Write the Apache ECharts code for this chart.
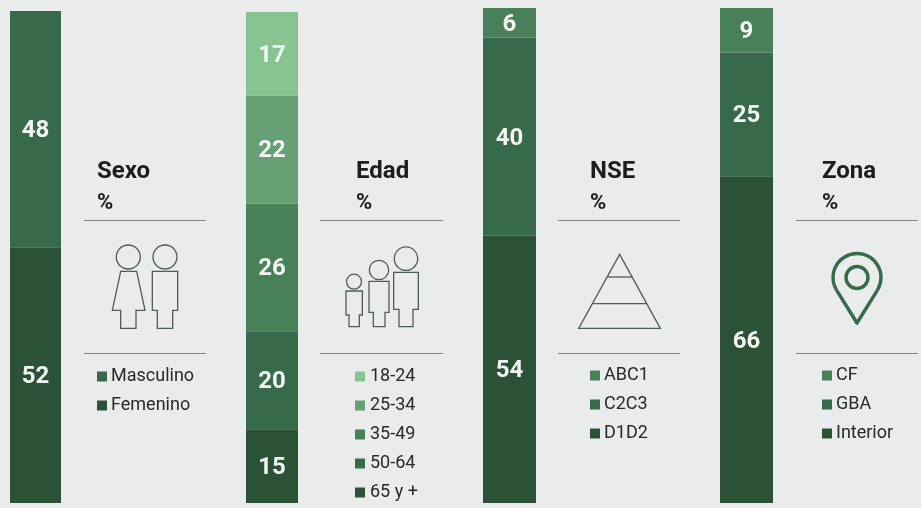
<!DOCTYPE html>
<html><head><meta charset="utf-8">
<style>html,body{margin:0;padding:0;background:#e9ecea}#c{width:921px;height:508px}</style>
<script src="https://cdn.jsdelivr.net/npm/echarts@6/dist/echarts.min.js"></script>
</head><body><div id="c"></div>
<script>
const panelTitles = ['Sexo','Edad','NSE','Zona'];
const unitLabel = '%';
const sexoCategories = ['Masculino','Femenino'];
const sexoValues = [48,52];
const sexoColors = ['#37694b','#2b5237'];
const edadCategories = ['18-24','25-34','35-49','50-64','65 y +'];
const edadValues = [17,22,26,20,15];
const edadColors = ['#86c592','#659f73','#488057','#37694b','#2b5237'];
const nseCategories = ['ABC1','C2C3','D1D2'];
const nseValues = [6,40,54];
const nseColors = ['#4a8059','#37694b','#2b5237'];
const zonaCategories = ['CF','GBA','Interior'];
const zonaValues = [9,25,66];
const zonaColors = ['#4a8059','#37694b','#2b5237'];

const layouts = [
 {bar:[10,11,51,492], tx:97, rule:[84,206], lx:97, ly:366, tp:-1},
 {bar:[246,12,52,491], tx:356, rule:[320,443], lx:355, ly:366, tp:0},
 {bar:[483,8,53,495], tx:590, rule:[558,680], lx:590, ly:365, tp:-1},
 {bar:[720,8,53,495], tx:822, rule:[796,918], lx:822, ly:365, tp:-1}
];
const cats=[sexoCategories,edadCategories,nseCategories,zonaCategories];
const vals=[sexoValues,edadValues,nseValues,zonaValues];
const cols=[sexoColors,edadColors,nseColors,zonaColors];
const INK='#1a1e1c', RULE='#7f8682', ICON='#525c56', PIN='#37694b';

const grid=[],xAxis=[],yAxis=[],series=[],legend=[],title=[],graphic=[];
layouts.forEach((L,i)=>{
  grid.push({left:L.bar[0],top:L.bar[1],width:L.bar[2],height:L.bar[3]});
  xAxis.push({type:'category',gridIndex:i,data:[panelTitles[i]],show:false});
  yAxis.push({type:'value',gridIndex:i,min:0,max:100,show:false});
  for(let k=cats[i].length-1;k>=0;k--){
    series.push({type:'bar',name:cats[i][k],stack:panelTitles[i],xAxisIndex:i,yAxisIndex:i,
      barWidth:'100%',data:[vals[i][k]],itemStyle:{color:cols[i][k]},
      label:{show:true,position:'inside',offset:[0,2],formatter:'{c}',color:'#f2f5f2',fontFamily:'Roboto',fontWeight:'bold',fontSize:24}});
  }
  legend.push({orient:'vertical',left:L.lx,top:L.ly,padding:0,itemGap:8,itemWidth:10,itemHeight:10,
    icon:'rect',selectedMode:false,data:cats[i],
    textStyle:{fontFamily:'Roboto',fontSize:18,color:'#262a28',padding:[0,0,0,L.tp],lineHeight:21}});
  title.push({text:panelTitles[i],left:L.tx,top:158,padding:0,itemGap:4,
    textStyle:{fontFamily:'Roboto',fontWeight:'bold',fontSize:24,color:INK,lineHeight:28},
    subtext:unitLabel,
    subtextStyle:{fontFamily:'Roboto',fontWeight:'bold',fontSize:22,color:INK,lineHeight:26}});
  [220.5,353.5].forEach(y=>graphic.push({type:'line',shape:{x1:L.rule[0],y1:y,x2:L.rule[1],y2:y},style:{stroke:RULE,lineWidth:1}}));
});
const ring=(cx,cy,r)=>({type:'circle',shape:{cx,cy,r},style:{fill:'none',stroke:ICON,lineWidth:1.3}});
const poly=(pts,ox,oy)=>({type:'polygon',shape:{points:pts.map(p=>[ox+p[0]/3,oy+p[1]/3])},style:{fill:'none',stroke:ICON,lineWidth:1.3}});
const seg=(a,b,ox,oy)=>({type:'line',shape:{x1:ox+a[0]/3,y1:oy+a[1]/3,x2:ox+b[0]/3,y2:oy+b[1]/3},style:{stroke:ICON,lineWidth:1.3}});
// Sexo icons
graphic.push(ring(128.3,257,12),ring(165,257,12));
graphic.push(poly([[362,424],[410,424],[435,541],[408,541],[408,595],[362,595],[362,541],[337,541]],0,130));
graphic.push(poly([[457,424],[533,424],[533,541],[518,541],[518,595],[472,595],[472,541],[457,541]],0,130));
// Edad icons
graphic.push(ring(240+342/3,140+425/3,7.5),ring(240+417/3,140+390/3,9.7),ring(240+498/3,140+356/3,11.7));
graphic.push(poly([[318,453],[367,453],[367,525],[358,525],[358,560],[327,560],[327,525],[318,525]],240,140));
graphic.push(poly([[387,424],[447,424],[447,517],[435,517],[435,560],[400,560],[400,517],[387,517]],240,140));
graphic.push(poly([[461,397],[535,397],[535,508],[519,508],[519,560],[477,560],[477,508],[461,508]],240,140));
// NSE icon
graphic.push(poly([[419,343],[541,565],[296,565]],480,140));
graphic.push(seg([383,411],[457,411],480,140),seg([338,491],[498,491],480,140));
// Zona icon
graphic.push({type:'arc',shape:{cx:857,cy:277.5,r:24,startAngle:149*Math.PI/180,endAngle:31*Math.PI/180,clockwise:true},style:{fill:'none',stroke:PIN,lineWidth:3.4}});
graphic.push({type:'polyline',shape:{points:[[836.4,289.9],[857,323],[877.6,289.9]]},style:{fill:'none',stroke:PIN,lineWidth:3.4,lineJoin:'round'}});
graphic.push({type:'circle',shape:{cx:857,cy:277.5,r:11},style:{fill:'none',stroke:PIN,lineWidth:3.4}});

const chart=echarts.init(document.getElementById('c'),null,{renderer:'canvas'});
chart.setOption({backgroundColor:'#e9ecea',animation:false,grid,xAxis,yAxis,series,legend,title,graphic:{elements:graphic},tooltip:{show:false}});
</script></body></html>
